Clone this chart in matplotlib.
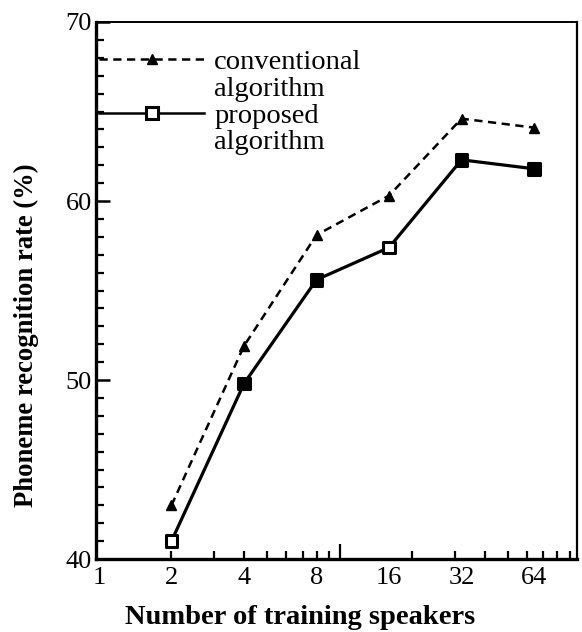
import numpy as np
import matplotlib
matplotlib.use("Agg")
import matplotlib.pyplot as plt
from matplotlib.lines import Line2D

# Data
speakers = [2, 4, 8, 16, 32, 64]
conventional = [43.0, 51.9, 58.1, 60.3, 64.6, 64.1]
proposed = [41.0, 49.8, 55.6, 57.4, 62.3, 61.8]
proposed_hollow = [True, False, False, True, False, False]

x_labels = ["1", "2", "4", "8", "16", "32", "64"]
x_label_pos = [1, 2, 4, 8, 16, 32, 64]
minor_x = [3, 5, 6, 7, 9, 10, 20, 30, 40, 50, 60, 70, 80, 90]

plt.rcParams['font.family'] = ['Liberation Serif', 'DejaVu Serif']

fig = plt.figure(figsize=(5.82, 6.32), dpi=100)
ax = fig.add_axes([96 / 582, 73 / 632, 481 / 582, 537 / 632])

dash = (0, (3.3, 2.2))

# conventional algorithm
ax.plot(speakers, conventional, color='black', linestyle=dash, linewidth=1.8,
        marker='^', markersize=7.5, markerfacecolor='black', markeredgecolor='black')

# proposed algorithm: line then squares (some hollow)
ax.plot(speakers, proposed, color='black', linestyle='-', linewidth=2.3)
face = ['white' if h else 'black' for h in proposed_hollow]
ax.scatter(speakers, proposed, marker='s', s=70, facecolors=face, edgecolors='black',
           linewidths=2.2, zorder=3)

ax.set_xscale('log', base=2)
ax.set_xlim(0.972, 96.5)
ax.set_ylim(40, 70)

ax.set_xticks(x_label_pos)
ax.set_xticklabels(x_labels, fontsize=19)
ax.set_xticks(minor_x, minor=True)
ax.xaxis.set_minor_formatter(matplotlib.ticker.NullFormatter())
ax.tick_params(axis='x', which='both', direction='in', length=6, width=1.6, pad=6)

ax.set_yticks([40, 50, 60, 70])
ax.set_yticks(np.arange(40, 71, 1), minor=True)
ax.tick_params(axis='y', which='major', direction='in', length=10, width=1.8,
               labelsize=19, pad=3)
ax.tick_params(axis='y', which='minor', direction='in', length=6, width=1.6)

ax.spines['left'].set_linewidth(2.4)
ax.spines['bottom'].set_linewidth(2.4)
ax.spines['top'].set_linewidth(1.4)
ax.spines['right'].set_linewidth(1.6)

ax.set_xlabel('Number of training speakers', fontsize=20.5, fontweight='bold')
ax.set_ylabel('Phoneme recognition rate (%)', fontsize=19.2, fontweight='bold')
ax.xaxis.set_label_coords(0.424, -0.086)
ax.yaxis.set_label_coords(-0.118, 0.417)

# legend: handle next to first line of each two-line label
handles = [
    Line2D([], [], color='black', linestyle=dash, linewidth=1.8,
           marker='^', markersize=7.5, markerfacecolor='black'),
    Line2D([], [], linestyle='none'),
    Line2D([], [], color='black', linestyle='-', linewidth=1.8,
           marker='s', markersize=8, markerfacecolor='white', markeredgewidth=2.2,
           markeredgecolor='black'),
    Line2D([], [], linestyle='none'),
]
labels = ['conventional', 'algorithm', 'proposed', 'algorithm']
ax.legend(handles, labels, loc='upper left', bbox_to_anchor=(0.0, 0.955),
          frameon=False, fontsize=20.5, handlelength=3.7, handletextpad=0.35,
          labelspacing=0.03, borderpad=0.1, borderaxespad=0.0)

# tick lengths: none under 1/16/32/64, a longer one at 10
fig.canvas.draw()
for t in ax.xaxis.get_major_ticks():
    if t.get_loc() in (1, 16, 32, 64):
        t.tick1line.set_markersize(0)
for t in ax.xaxis.get_minor_ticks():
    if t.get_loc() == 10:
        t.tick1line.set_markersize(11)

fig.savefig('out.png', dpi=100)
